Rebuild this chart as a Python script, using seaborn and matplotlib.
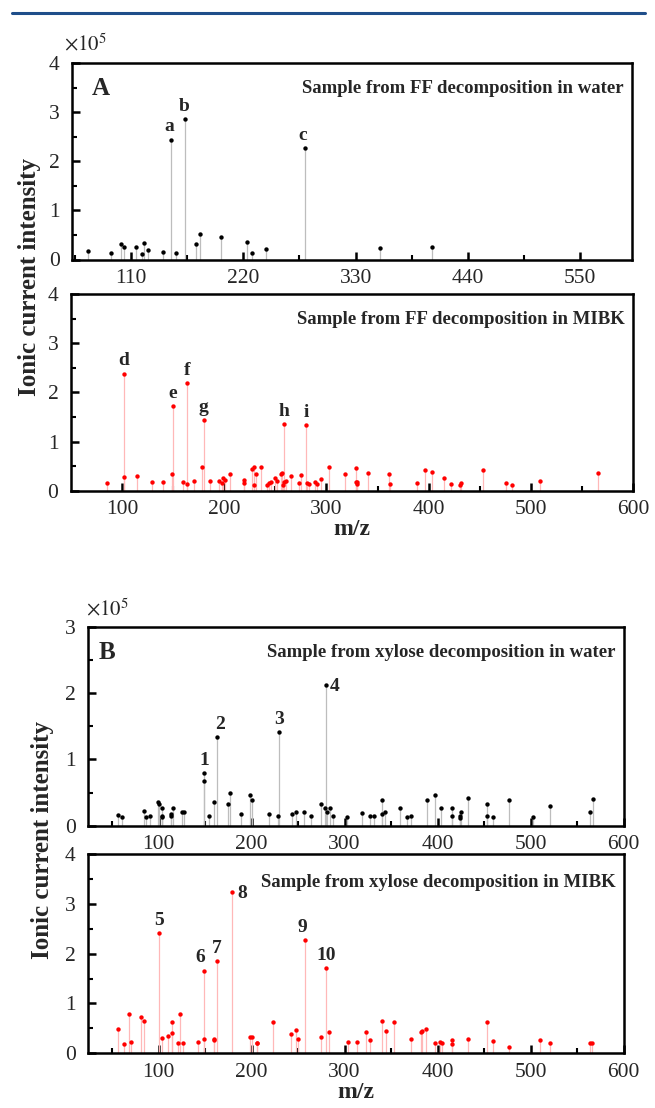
import numpy as np
import pandas as pd
import matplotlib
matplotlib.use("Agg")
import matplotlib.pyplot as plt
import seaborn as sns
from matplotlib.ticker import MultipleLocator, FixedLocator
from matplotlib.lines import Line2D

# ---------------- data (intensity in units of 1e5) ----------------
# Panel A, FF decomposition in water
mz_A_water = [68, 90, 100, 102.5, 114.5, 120.5, 122.5, 126.5, 141.5, 149, 154,
              163, 174, 177, 198.5, 223.5, 228.5, 242.5, 280, 354, 404.5]
int_A_water = [0.18, 0.14, 0.31, 0.26, 0.26, 0.12, 0.33, 0.20, 0.15, 2.44, 0.14,
               2.86, 0.31, 0.52, 0.46, 0.35, 0.14, 0.22, 2.27, 0.24, 0.26]
lab_A_water = ["a", "b", "c"]
lab_mz_A_water = [149, 163, 280]
lab_int_A_water = [2.44, 2.86, 2.27]

# Panel A, FF decomposition in MIBK
mz_A_mibk = [85.3, 101.5, 101.5, 114.3, 129.4, 139.6, 149.3, 149.5, 159.3, 163.7,
             163.5, 170.6, 177.8, 179.9, 185.6, 195.3, 197.5, 198.8, 200.8, 205.4,
             219.5, 219.5, 227.5, 228.8, 228.8, 231.0, 236.0, 242.2, 244.2, 246.2,
             249.8, 252.0, 255.7, 256.8, 258.0, 257.5, 258.6, 260.0, 265.0, 273.0,
             274.6, 280.0, 281.0, 282.8, 289.0, 290.6, 295.0, 302.5, 318.5, 328.5,
             329.3, 329.7, 330.0, 340.2, 361.0, 362.0, 388.3, 396.8, 403.3, 415.2,
             422.2, 430.8, 431.8, 452.8, 475.8, 481.8, 509.3, 566.0]
int_A_mibk = [0.15, 0.27, 2.38, 0.29, 0.18, 0.17, 0.34, 1.72, 0.18, 0.14,
              2.18, 0.20, 0.48, 1.44, 0.20, 0.20, 0.16, 0.26, 0.22, 0.33,
              0.22, 0.15, 0.44, 0.49, 0.12, 0.34, 0.49, 0.12, 0.15, 0.17,
              0.26, 0.20, 0.34, 0.36, 1.35, 0.12, 0.17, 0.19, 0.30, 0.16,
              0.31, 1.34, 0.16, 0.14, 0.17, 0.13, 0.24, 0.49, 0.34, 0.17,
              0.47, 0.14, 0.17, 0.37, 0.33, 0.14, 0.15, 0.42, 0.39, 0.26,
              0.14, 0.12, 0.16, 0.43, 0.15, 0.12, 0.20, 0.37]
lab_A_mibk = ["d", "e", "f", "g", "h", "i"]
lab_mz_A_mibk = [101.5, 149.5, 163.5, 179.9, 258.0, 280.0]
lab_int_A_mibk = [2.38, 1.72, 2.18, 1.44, 1.35, 1.34]

# Panel B, xylose decomposition in water
mz_B_water = [56.7, 60.8, 84.2, 86.5, 90.6, 99.6, 100.9, 103.1, 103.1, 103.5,
              113.5, 113.5, 115.3, 124.8, 127.4, 149.0, 149.0, 154.4, 159.4, 163.0,
              174.3, 177.0, 188.2, 198.6, 200.4, 218.4, 228.7, 229.6, 243.1, 248.0,
              256.2, 263.8, 275.0, 279.0, 280.0, 281.0, 284.0, 287.5, 302.8, 318.5,
              327.8, 331.4, 339.8, 340.0, 343.8, 359.8, 366.6, 371.0, 388.5, 397.0,
              403.8, 415.5, 415.5, 424.3, 424.5, 425.0, 433.0, 452.8, 453.0, 459.5,
              476.5, 502.8, 520.5, 564.5, 566.8]
int_B_water = [0.16, 0.13, 0.22, 0.13, 0.15, 0.35, 0.32, 0.26, 0.15, 0.13,
               0.18, 0.15, 0.26, 0.21, 0.21, 0.79, 0.68, 0.14, 0.36, 1.33,
               0.32, 0.50, 0.18, 0.46, 0.39, 0.18, 0.15, 1.41, 0.18, 0.20,
               0.20, 0.14, 0.32, 0.26, 2.12, 0.20, 0.26, 0.14, 0.13, 0.19,
               0.14, 0.14, 0.39, 0.17, 0.21, 0.27, 0.13, 0.15, 0.39, 0.47,
               0.26, 0.27, 0.15, 0.12, 0.15, 0.20, 0.42, 0.32, 0.15, 0.13,
               0.39, 0.13, 0.29, 0.20, 0.40]
lab_B_water = ["1", "2", "3", "4"]
lab_mz_B_water = [149.0, 163.0, 229.6, 280.0]
lab_int_B_water = [0.79, 1.33, 1.41, 2.12]

# Panel B, xylose decomposition in MIBK
mz_B_mibk = [56.7, 62.2, 68.4, 70.7, 81.5, 84.7, 100.4, 104.0, 109.9, 114.0,
             114.0, 121.2, 123.0, 126.6, 141.9, 149.0, 149.0, 159.0, 159.8, 163.0,
             179.2, 198.6, 200.6, 205.3, 206.0, 223.3, 242.7, 247.6, 249.9, 257.5,
             275.1, 280.0, 283.2, 303.5, 313.8, 323.0, 327.5, 340.5, 344.0, 353.0,
             371.0, 382.0, 383.0, 388.0, 397.5, 403.0, 405.0, 415.0, 415.5, 432.5,
             453.5, 460.0, 476.5, 510.0, 520.5, 564.5, 566.0]
int_B_mibk = [0.49, 0.19, 0.78, 0.23, 0.72, 0.64, 2.42, 0.31, 0.35, 0.62,
              0.41, 0.21, 0.79, 0.20, 0.22, 1.66, 0.29, 0.28, 0.27, 1.85,
              3.23, 0.33, 0.33, 0.21, 0.20, 0.63, 0.38, 0.47, 0.29, 2.27,
              0.33, 1.71, 0.43, 0.23, 0.23, 0.43, 0.27, 0.64, 0.45, 0.63,
              0.29, 0.43, 0.44, 0.49, 0.21, 0.23, 0.21, 0.27, 0.19, 0.29,
              0.62, 0.25, 0.13, 0.27, 0.20, 0.20, 0.20]
lab_B_mibk = ["5", "6", "7", "8", "9", "10"]
lab_mz_B_mibk = [100.4, 149.0, 163.0, 179.2, 257.5, 280.0]
lab_int_B_mibk = [2.42, 1.66, 1.85, 3.23, 2.27, 1.71]

xticks_A_top = [110, 220, 330, 440, 550]
xticks_std = [100, 200, 300, 400, 500, 600]

# ---------------- style ----------------
sns.set_style("ticks")
plt.rcParams["font.family"] = ["Liberation Serif", "DejaVu Serif"]
plt.rcParams["mathtext.fontset"] = "stix"

W, H = 655, 1108
fig = plt.figure(figsize=(W / 100, H / 100), dpi=100)


def box(l, t, r, b):
    return [l / W, 1 - b / H, (r - l) / W, (b - t) / H]


def panel(rect, mz, inten, dot, stem, xlim, ylim, xmajor, xminor, title, title_y):
    ax = fig.add_axes(rect)
    ax.vlines(mz, 0, inten, colors=stem, lw=0.9, zorder=1)
    df = pd.DataFrame({"mz": mz, "I": inten})
    sns.scatterplot(data=df, x="mz", y="I", ax=ax, color=dot, s=10,
                    linewidth=0, zorder=3, legend=False)
    ax.set_xlim(*xlim)
    ax.set_ylim(*ylim)
    ax.set_xlabel("")
    ax.set_ylabel("")
    ax.xaxis.set_major_locator(FixedLocator(xmajor))
    ax.xaxis.set_minor_locator(FixedLocator(xminor))
    ax.yaxis.set_major_locator(MultipleLocator(1))
    ax.yaxis.set_minor_locator(MultipleLocator(0.5))
    ax.tick_params(which="both", direction="in", top=False, right=False,
                   labelsize=15.5, color="black")
    ax.tick_params(which="major", length=6, width=1.8)
    ax.tick_params(which="minor", length=3.5, width=1.5)
    ax.tick_params(axis="y", pad=9)
    ax.tick_params(axis="x", pad=7)
    for s in ax.spines.values():
        s.set_linewidth(1.8)
        s.set_color("black")
    ax.text(0.985, title_y, title, transform=ax.transAxes, ha="right",
            va="center", fontsize=13.5, fontweight="bold")
    return ax


def peak_labels(ax, labels, xs, ys, offsets):
    for lab, x, y, (dx, dy, ha, va) in zip(labels, xs, ys, offsets):
        ax.annotate(lab, xy=(x, y), xytext=(dx, dy), textcoords="offset points",
                    ha=ha, va=va, fontsize=14, fontweight="bold")


# Panel A top
axA1 = panel(box(72, 63, 632, 259.5), mz_A_water, int_A_water, "black", "#bdbdbd",
             (52, 601), (0, 4), xticks_A_top, [55, 165, 275, 385, 495],
             "Sample from FF decomposition in water", 0.87)
peak_labels(axA1, lab_A_water, lab_mz_A_water, lab_int_A_water,
            [(-1, 3, "center", "bottom")] * 3)
axA1.text(0.035, 0.87, "A", transform=axA1.transAxes, ha="left", va="center",
          fontsize=18, fontweight="bold")

# Panel A bottom
axA2 = panel(box(71, 294, 633, 490.7), mz_A_mibk, int_A_mibk, "#ff0000", "#ffb8b8",
             (50, 600), (0, 4), xticks_std, [150, 250, 350, 450, 550],
             "Sample from FF decomposition in MIBK", 0.87)
peak_labels(axA2, lab_A_mibk, lab_mz_A_mibk, lab_int_A_mibk,
            [(0, 3, "center", "bottom")] * 6)

# Panel B top
axB1 = panel(box(88, 626.7, 623.5, 825.7), mz_B_water, int_B_water, "black", "#bdbdbd",
             (24, 600), (0, 3), xticks_std, [50, 150, 250, 350, 450, 550],
             "Sample from xylose decomposition in water", 0.872)
peak_labels(axB1, lab_B_water, lab_mz_B_water, lab_int_B_water,
            [(0, 3, "center", "bottom"), (2, 3, "center", "bottom"),
             (0, 3, "center", "bottom"), (3, -1, "left", "center")])
axB1.text(0.02, 0.87, "B", transform=axB1.transAxes, ha="left", va="center",
          fontsize=18, fontweight="bold")

# Panel B bottom
axB2 = panel(box(88, 854, 623.5, 1053.3), mz_B_mibk, int_B_mibk, "#ff0000", "#ffb8b8",
             (24, 600), (0, 4), xticks_std, [50, 150, 250, 350, 450, 550],
             "Sample from xylose decomposition in MIBK", 0.855)
peak_labels(axB2, lab_B_mibk, lab_mz_B_mibk, lab_int_B_mibk,
            [(0, 3, "center", "bottom"), (-3, 3, "center", "bottom"),
             (0, 3, "center", "bottom"), (4, -1, "left", "center"),
             (-2, 3, "center", "bottom"), (0, 3, "center", "bottom")])

# x-axis titles
axA2.set_xlabel("m/z", fontsize=17, fontweight="bold", labelpad=0)
axB2.set_xlabel("m/z", fontsize=17, fontweight="bold", labelpad=0)

# shared y titles
fig.text(30 / W, 1 - 277 / H, "Ionic current intensity", rotation=90,
         ha="center", va="center", fontsize=18, fontweight="bold")
fig.text(43 / W, 1 - 840 / H, "Ionic current intensity", rotation=90,
         ha="center", va="center", fontsize=18, fontweight="bold")

# multiplier labels
fig.text(64 / W, 1 - 45 / H, r"$\times10^5$", ha="left", va="center", fontsize=15)
fig.text(86 / W, 1 - 610 / H, r"$\times10^5$", ha="left", va="center", fontsize=15)

# blue header rule
fig.add_artist(Line2D([12 / W, 645 / W], [1 - 13 / H, 1 - 13 / H],
                      color="#1f4e8a", lw=2.2))

fig.savefig("out.png", dpi=100)
